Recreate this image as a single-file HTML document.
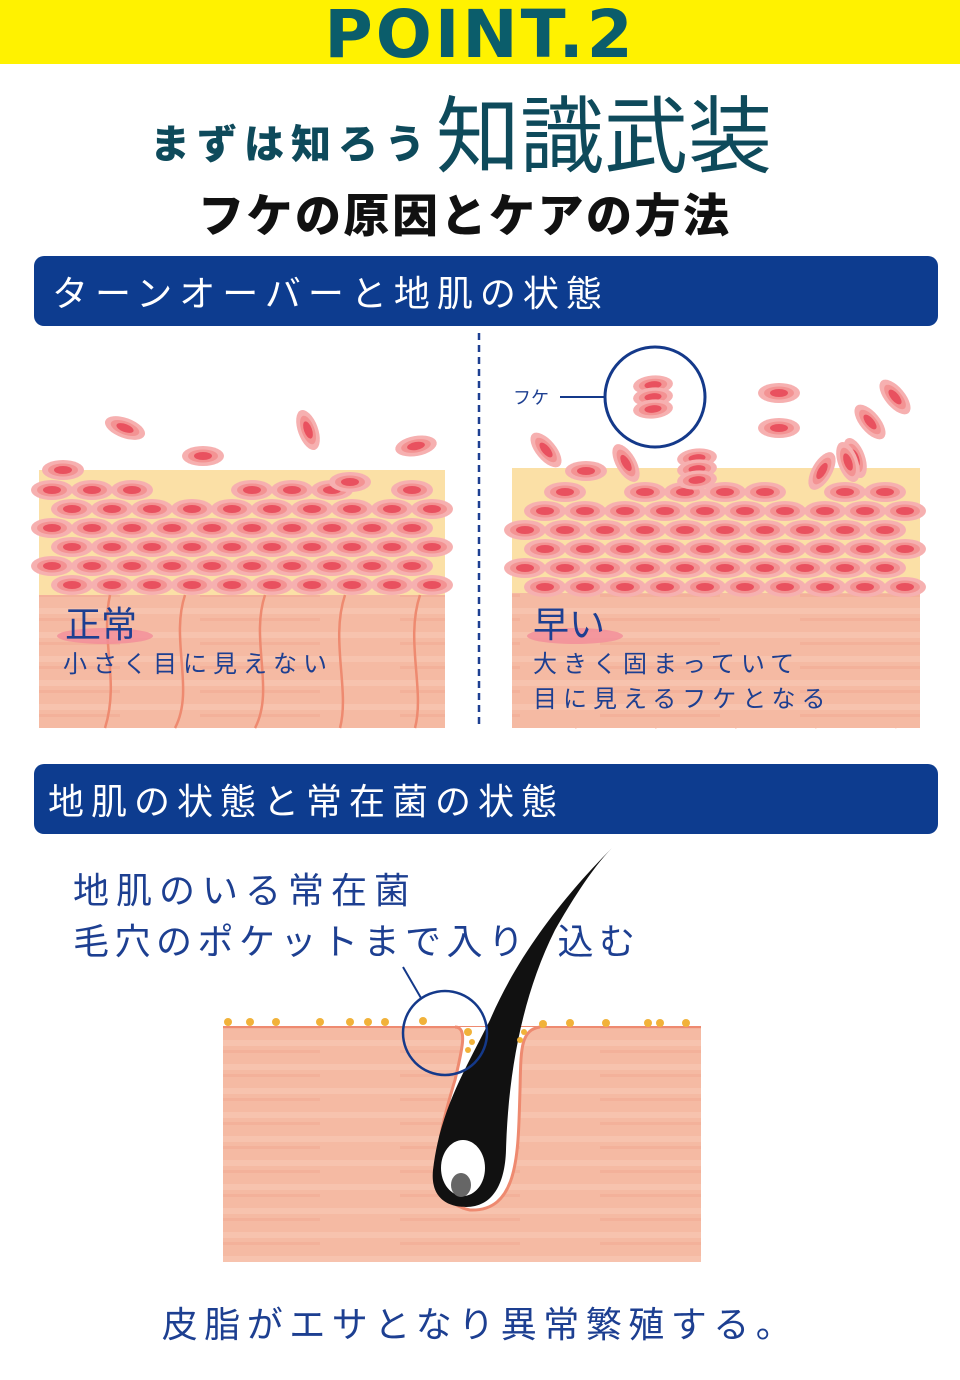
<!DOCTYPE html>
<html><head><meta charset="utf-8"><style>
body{margin:0;background:#fff;width:960px;height:1380px;overflow:hidden;position:relative;font-family:"Liberation Sans","Noto Sans CJK JP",sans-serif}
.t{position:absolute;white-space:nowrap}
.bar{position:absolute;left:34px;width:904px;height:70px;background:#0d3c8f;border-radius:10px;color:#fff;font-size:36px;line-height:70px;padding-left:18px;box-sizing:border-box;letter-spacing:7px;font-family:'Noto Sans CJK JP',sans-serif}
.blue{color:#1d3f91}
</style></head><body>
<div style="position:absolute;left:0;top:0;width:960px;height:64px;background:#fff200"></div>
<div class="t" style="left:0;width:960px;text-align:center;top:-4px;font-size:66px;font-weight:900;color:#0b5d6b;letter-spacing:3px;font-family:'DejaVu Sans',sans-serif">POINT.2</div>
<div class="t" style="left:150px;top:112px;font-size:40px;font-weight:900;color:#0e4a5b;letter-spacing:7px">まずは知ろう</div>
<div class="t" style="left:436px;top:70px;font-size:84px;color:#0e4a5b;font-family:'Noto Sans CJK JP',sans-serif">知識武装</div>
<div class="t" style="left:198px;top:180px;font-size:46px;font-weight:900;color:#111;letter-spacing:2.5px">フケの原因とケアの方法</div>
<div class="bar" style="top:256px">ターンオーバーと地肌の状態</div>
<div class="bar" style="top:764px;padding-left:14px">地肌の状態と常在菌の状態</div>

<svg style="position:absolute;left:0;top:0" width="960" height="1380">
<defs>
<pattern id="streak" width="200" height="24" patternUnits="userSpaceOnUse"><rect width="200" height="24" fill="#f5baa3"/><rect y="8" width="200" height="6" fill="#f8c8b3" opacity=".7"/><rect y="18" width="120" height="3" fill="#f1ab94" opacity=".6"/></pattern>
<g id="cell"><ellipse rx="21" ry="10" fill="#f6b0b0"/><ellipse rx="15" ry="6.5" fill="#f39393"/><ellipse rx="9" ry="4" fill="#e9515f"/></g>
</defs>
<line x1="479" y1="333" x2="479" y2="728" stroke="#1d3f91" stroke-width="2.5" stroke-dasharray="7,5"/>
<rect x="39" y="470" width="406" height="258" fill="url(#streak)"/>
<rect x="39" y="470" width="406" height="125" fill="#fbe0a6"/>
<g id="leftcells"></g>
<g fill="none" stroke="#ee8a70" stroke-width="2.5">
<path d="M110 595 C100 640 120 680 105 728"/><path d="M185 595 C170 640 195 690 175 728"/><path d="M265 595 C250 640 275 690 255 728"/><path d="M345 595 C330 640 350 690 340 728"/><path d="M420 595 C405 640 425 690 415 728"/>
<path d="M585 595 C570 640 595 690 575 728"/><path d="M665 595 C650 640 675 690 655 728"/><path d="M745 595 C730 640 755 690 735 728"/><path d="M820 595 C805 640 830 690 815 728"/><path d="M895 595 C880 640 905 690 895 728"/>
</g>
<rect x="512" y="470" width="408" height="258" fill="url(#streak)"/>
<rect x="512" y="468" width="408" height="125" fill="#fbe0a6"/>
<g id="rightcells"></g>
<g id="flakes"></g>
<circle cx="655" cy="397" r="50" fill="none" stroke="#14398a" stroke-width="3"/>
<line x1="560" y1="397" x2="605" y2="397" stroke="#14398a" stroke-width="2"/>
<text x="513" y="404" font-size="18" fill="#1d3f91" font-family="Noto Sans CJK JP">フケ</text>
<ellipse cx="105" cy="636" rx="48" ry="8" fill="#f28c98" opacity=".8"/>
<ellipse cx="575" cy="636" rx="48" ry="8" fill="#f28c98" opacity=".8"/>
<text x="65" y="637" font-size="36" fill="#1d3f91" font-family="Noto Sans CJK JP">正常</text>
<text x="63" y="672" font-size="24" fill="#1d3f91" font-family="Noto Sans CJK JP" letter-spacing="6">小さく目に見えない</text>
<text x="533" y="637" font-size="36" fill="#1d3f91" font-family="Noto Sans CJK JP">早い</text>
<text x="533" y="672" font-size="24" fill="#1d3f91" font-family="Noto Sans CJK JP" letter-spacing="6">大きく固まっていて</text>
<text x="533" y="707" font-size="24" fill="#1d3f91" font-family="Noto Sans CJK JP" letter-spacing="6">目に見えるフケとなる</text>

<rect x="223" y="1027" width="478" height="235" fill="url(#streak)"/>
<line x1="223" y1="1027" x2="701" y2="1027" stroke="#ee8a70" stroke-width="2"/>
<path d="M455 1027 C468 1027 462 1050 455 1080 C440 1130 420 1200 470 1210 C520 1212 518 1150 520 1090 C521 1050 520 1030 540 1027" fill="#fff" stroke="#ee8a70" stroke-width="3"/>
<path d="M612 848 C570 890 520 950 490 1020 C465 1070 440 1110 433 1170 C430 1200 450 1207 466 1207 C492 1207 505 1185 506 1150 C508 1080 520 1000 555 930 C575 895 595 865 612 848Z" fill="#111"/>
<ellipse cx="463" cy="1168" rx="22" ry="28" fill="#fff"/>
<ellipse cx="461" cy="1185" rx="10" ry="12" fill="#666"/>
<g fill="#f1b23a">
<circle cx="228" cy="1022" r="4"/><circle cx="250" cy="1022" r="4"/><circle cx="276" cy="1022" r="4"/><circle cx="320" cy="1022" r="4"/><circle cx="350" cy="1022" r="4"/><circle cx="368" cy="1022" r="4"/><circle cx="385" cy="1022" r="4"/><circle cx="423" cy="1021" r="4"/><circle cx="468" cy="1032" r="4"/><circle cx="472" cy="1042" r="3"/><circle cx="468" cy="1050" r="3"/><circle cx="524" cy="1032" r="3"/><circle cx="520" cy="1040" r="3"/><circle cx="543" cy="1024" r="4"/><circle cx="570" cy="1023" r="4"/><circle cx="606" cy="1023" r="4"/><circle cx="648" cy="1023" r="4"/><circle cx="660" cy="1023" r="4"/><circle cx="686" cy="1023" r="4"/>
</g>
<circle cx="445" cy="1033" r="42" fill="none" stroke="#14398a" stroke-width="2.5"/>
<line x1="403" y1="967" x2="421" y2="998" stroke="#14398a" stroke-width="2"/>
</svg>
<div class="t blue" style="left:73px;top:862px;font-size:36px;letter-spacing:7px;font-family:'Noto Sans CJK JP',sans-serif">地肌のいる常在菌</div>
<div class="t blue" style="left:73px;top:913px;font-size:36px;letter-spacing:5.5px;font-family:'Noto Sans CJK JP',sans-serif">毛穴のポケットまで入り<span style="margin-left:28px">込む</span></div>
<div class="t blue" style="left:0;width:960px;text-align:center;top:1296px;font-size:36px;letter-spacing:6.5px;font-family:'Noto Sans CJK JP',sans-serif">皮脂がエサとなり異常繁殖する。</div>
<script>
var NS="http://www.w3.org/2000/svg";
function cell(g,x,y,rot,s){var u=document.createElementNS(NS,"use");u.setAttribute("href","#cell");u.setAttribute("transform","translate("+x+","+y+") rotate("+(rot||0)+") scale("+(s||1)+")");g.appendChild(u);}
function fill(id,x0,x1,top,skip){var g=document.getElementById(id);var i=0;
for(var r=0;r<6;r++){var y=top+r*19;for(var x=x0+(r%2?20:0);x<x1+10;x+=40){i++;if(r==0&&skip.indexOf(i)>=0)continue;cell(g,Math.min(x,x1-5),y);}}}
fill("leftcells",52,440,490,[4,5,9]);fill("rightcells",525,915,492,[1,3,8]);
var f=document.getElementById("flakes"),L=document.getElementById("leftcells");
[[63,470,0],[125,428,20],[203,456,0],[308,430,70],[416,446,-10],[350,482,0]].forEach(function(a){cell(L,a[0],a[1],a[2]);});
[[546,450,50],[586,471,0],[626,463,60],[779,393,0],[779,428,0],[822,471,-60],[870,422,50],[895,397,50],[855,458,70],[848,462,70]].forEach(function(a){cell(f,a[0],a[1],a[2]);});
[[697,458],[697,469],[697,480],[653,385],[653,397],[653,409]].forEach(function(a){cell(f,a[0],a[1],-5,0.95);});
</script>
</body></html>
